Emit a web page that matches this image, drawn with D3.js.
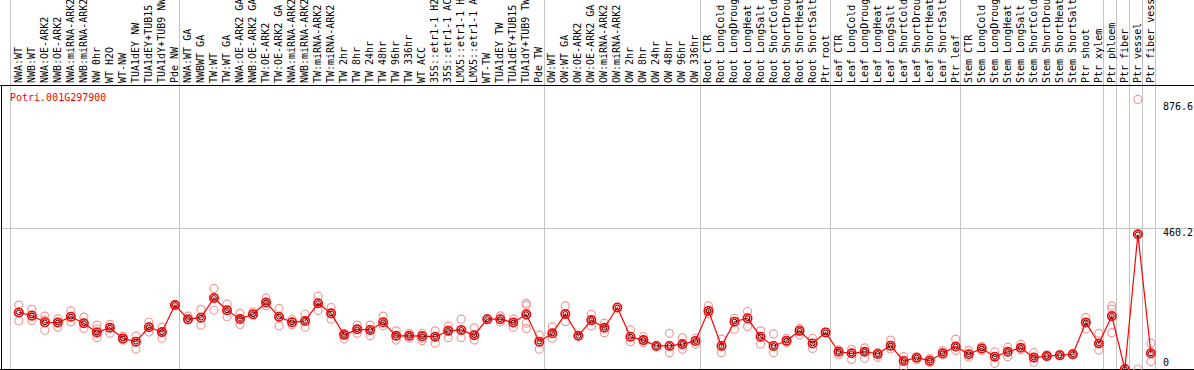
<!DOCTYPE html>
<html>
<head>
<meta charset="utf-8">
<script src="https://cdn.jsdelivr.net/npm/d3@7"></script>
<style>
    html, body { margin: 0; padding: 0; background: #fff; overflow: hidden; }
    svg { display: block; }
    text { font-family: "DejaVu Sans Mono", "Liberation Mono", monospace; font-size: 10px; }
</style>
</head>
<body>
<div id="chart"></div>
<script>
const geneName = 'Potri.001G297900';

const categories = [
    'NWA:WT', 'NWB:WT', 'NWA:OE-ARK2', 'NWB:OE-ARK2', 'NWA:miRNA-ARK2', 'NWB:miRNA-ARK2',
    'NW 0hr', 'WT H2O', 'WT-NW', 'TUA1dEY NW', 'TUA1dEY+TUB15', 'TUA1dY+TUB9 NW', 'Pde NW',
    'NWA:WT GA', 'NWBWT GA', 'TW:WT', 'TW:WT GA', 'NWA:OE-ARK2 GA', 'NWB:OE-ARK2 GA',
    'TW:OE-ARK2', 'TW:OE-ARK2 GA', 'NWA:miRNA-ARK2', 'NWB:miRNA-ARK2', 'TW:miRNA-ARK2',
    'TW:miRNA-ARK2', 'TW 2hr', 'TW 8hr', 'TW 24hr', 'TW 48hr', 'TW 96hr', 'TW 336hr',
    'WT ACC', '35S::etr1-1 H2', '35S::etr1-1 AC', 'LMX5::etr1-1 H', 'LMX5::etr1-1 A',
    'WT-TW', 'TUA1dEY TW', 'TUA1dEY+TUB15', 'TUA1dY+TUB9 TW', 'Pde TW',
    'OW:WT', 'OW:WT GA', 'OW:OE-ARK2', 'OW:OE-ARK2 GA', 'OW:miRNA-ARK2', 'OW:miRNA-ARK2',
    'OW 2hr', 'OW 8hr', 'OW 24hr', 'OW 48hr', 'OW 96hr', 'OW 336hr',
    'Root CTR', 'Root LongCold', 'Root LongDroug', 'Root LongHeat', 'Root LongSalt',
    'Root ShortCold', 'Root ShortDrou', 'Root ShortHeat', 'Root ShortSalt', 'Ptr root',
    'Leaf CTR', 'Leaf LongCold', 'Leaf LongDroug', 'Leaf LongHeat', 'Leaf LongSalt',
    'Leaf ShortCold', 'Leaf ShortDrou', 'Leaf ShortHeat', 'Leaf ShortSalt', 'Ptr leaf',
    'Stem CTR', 'Stem LongCold', 'Stem LongDroug', 'Stem LongHeat', 'Stem LongSalt',
    'Stem ShortCold', 'Stem ShortDrou', 'Stem ShortHeat', 'Stem ShortSalt',
    'Ptr shoot', 'Ptr xylem', 'Ptr phloem', 'Ptr fiber', 'Ptr vessel', 'Ptr fiber vess'
];

// mean expression per sample
const means = [
    184, 174, 152, 151, 170, 149, 119, 134, 99, 89, 136, 120, 208,
    162, 167, 231, 191, 163, 178, 216, 170, 152, 156, 214, 181, 111, 129, 127, 152, 108,
    108, 107, 105, 124, 127, 110, 162, 162, 151, 178, 89,
    116, 179, 108, 159, 134, 200, 105, 94, 75, 75, 81, 91,
    189, 75, 154, 165, 105, 75, 92, 124, 83, 119,
    56, 51, 56, 49, 76, 26, 37, 27, 51, 73,
    48, 67, 40, 56, 69, 37, 42, 45, 48, 151, 83,
    172, 0, 438, 51
];

// individual replicates per sample
const replicates = [
    [208, 184, 157], [194, 170, 157], [172, 159, 126], [163, 151, 136], [189, 170, 154],
    [169, 149, 132], [143, 130, 121, 102], [145, 134, 116], [107, 99, 94], [107, 89, 65],
    [152, 136, 120], [136, 120, 100], [208, 208, 208],
    [172, 161, 159], [194, 167, 142], [262, 231, 191], [211, 191, 170], [181, 163, 145],
    [186, 178, 176], [231, 216, 206], [197, 170, 140], [161, 152, 143], [178, 156, 136],
    [237, 214, 190], [200, 181, 162], [116, 111, 98], [143, 129, 116], [143, 127, 108],
    [172, 152, 141], [124, 108, 94], [116, 108, 100], [116, 100, 92], [124, 105, 84],
    [140, 124, 102], [162, 127, 102], [134, 110, 94], [162, 162, 162], [173, 162, 153],
    [162, 151, 136], [214, 208, 176, 149, 132], [110, 89, 64],
    [137, 116, 100], [205, 179, 154], [108, 108, 108], [178, 159, 140], [149, 134, 118],
    [200, 200], [127, 105, 89], [105, 94, 86], [75, 75, 73], [116, 75, 53], [102, 81, 64],
    [100, 91, 81],
    [205, 189, 179], [97, 75, 53], [165, 154, 129], [187, 165, 138], [124, 105, 81],
    [114, 75, 53], [100, 92, 86], [132, 124, 111], [100, 83, 67], [119, 119, 119],
    [62, 56, 46], [64, 51, 31], [69, 56, 35], [53, 49, 38], [94, 76, 65], [40, 26, 8],
    [37, 37, 31], [34, 27, 21], [60, 51, 46], [97, 73, 60],
    [60, 48, 38], [73, 67, 60], [56, 40, 18], [71, 56, 40], [80, 69, 62], [53, 37, 22],
    [46, 42, 40], [48, 45, 43], [50, 48, 46], [167, 151, 130], [116, 83, 62],
    [205, 195, 118], [0, 0, 0], [876.6, 438, 0], [84, 51, 24]
];

// sample index where each block of samples starts (plus the end)
const groupStarts = [0, 13, 41, 53, 63, 73, 84, 85, 86, 87, 88];

const width = 1194;
const height = 370;
const props = {
    headerBottom: 85.5,
    plotBottom: 369.5,
    labelBase: 83,
    gridColor: '#c4c4c4',
    meanColor: '#ff0000',
    repColor: '#f09a9a'
};

const svg = d3.select('#chart').append('svg')
    .attr('width', width)
    .attr('height', height);

// group boundaries sit on a regular 13px grid, samples in between
const xg = d3.scaleLinear()
    .domain([0, categories.length])
    .range([10.3, 1155.4]);
const xp = i => xg(i) + 8.5;

const dataMax = d3.max(replicates.flat());
const yTop = +(dataMax * 1.05).toFixed(1);
const y = d3.scaleLinear()
    .domain([0, yTop])
    .range([props.plotBottom - 0.5, props.headerBottom + 0.5]);

// vertical grid lines through header and plot
svg.append('g')
    .selectAll('line')
    .data(groupStarts)
    .join('line')
    .attr('x1', d => Math.round(xg(d)) + 0.5)
    .attr('x2', d => Math.round(xg(d)) + 0.5)
    .attr('y1', 0)
    .attr('y2', props.plotBottom)
    .attr('stroke', props.gridColor);

// middle horizontal grid line
svg.append('line')
    .attr('x1', 0)
    .attr('x2', width)
    .attr('y1', Math.round(y(yTop / 2)) + 0.5)
    .attr('y2', Math.round(y(yTop / 2)) + 0.5)
    .attr('stroke', props.gridColor);

// frame
svg.append('line')
    .attr('x1', 0).attr('x2', width)
    .attr('y1', props.headerBottom).attr('y2', props.headerBottom)
    .attr('stroke', '#000');
svg.append('line')
    .attr('x1', 0).attr('x2', width)
    .attr('y1', props.plotBottom).attr('y2', props.plotBottom)
    .attr('stroke', '#000');
svg.append('line')
    .attr('x1', 1.5).attr('x2', 1.5)
    .attr('y1', props.headerBottom).attr('y2', height)
    .attr('stroke', '#000');

// sample names, rotated
svg.append('g')
    .selectAll('text')
    .data(categories)
    .join('text')
    .attr('transform', (d, i) => `translate(${xp(i) - 0.5},${props.labelBase}) rotate(-90)`)
    .attr('dominant-baseline', 'central')
    .attr('fill', '#000')
    .text(d => d);

// gene id
svg.append('text')
    .attr('x', 10)
    .attr('y', 101)
    .attr('fill', '#ff0000')
    .text(geneName);

// y labels on the right: max value, middle, zero
const yTicks = [
    { v: dataMax, dy: 11 },
    { v: yTop / 2, dy: 8.5 },
    { v: 0, dy: -3 }
];
svg.append('g')
    .selectAll('text')
    .data(yTicks)
    .join('text')
    .attr('x', 1163)
    .attr('y', d => y(d.v) + d.dy)
    .attr('fill', '#000')
    .text(d => d.v === 0 ? '0' : d3.format('.1f')(d.v));

// replicate circles
const repPoints = replicates.flatMap((reps, i) => reps.map(v => ({ i, v })));
svg.append('g')
    .selectAll('circle')
    .data(repPoints)
    .join('circle')
    .attr('cx', d => xp(d.i))
    .attr('cy', d => y(d.v))
    .attr('r', 4)
    .attr('fill', 'none')
    .attr('stroke', props.repColor)
    .attr('stroke-width', 1.2);

// mean line
const line = d3.line()
    .x((d, i) => xp(i))
    .y(d => y(d));
svg.append('path')
    .datum(means)
    .attr('d', line)
    .attr('fill', 'none')
    .attr('stroke', props.meanColor)
    .attr('stroke-width', 1.2);

// mean markers
const meanG = svg.append('g')
    .selectAll('g')
    .data(means)
    .join('g')
    .attr('transform', (d, i) => `translate(${xp(i)},${y(d)})`);
meanG.append('circle')
    .attr('r', 4.2)
    .attr('fill', 'none')
    .attr('stroke', props.meanColor)
    .attr('stroke-width', 1.6);
meanG.append('circle')
    .attr('r', 2.4)
    .attr('fill', 'none')
    .attr('stroke', '#300')
    .attr('stroke-width', 1);
</script>
</body>
</html>
